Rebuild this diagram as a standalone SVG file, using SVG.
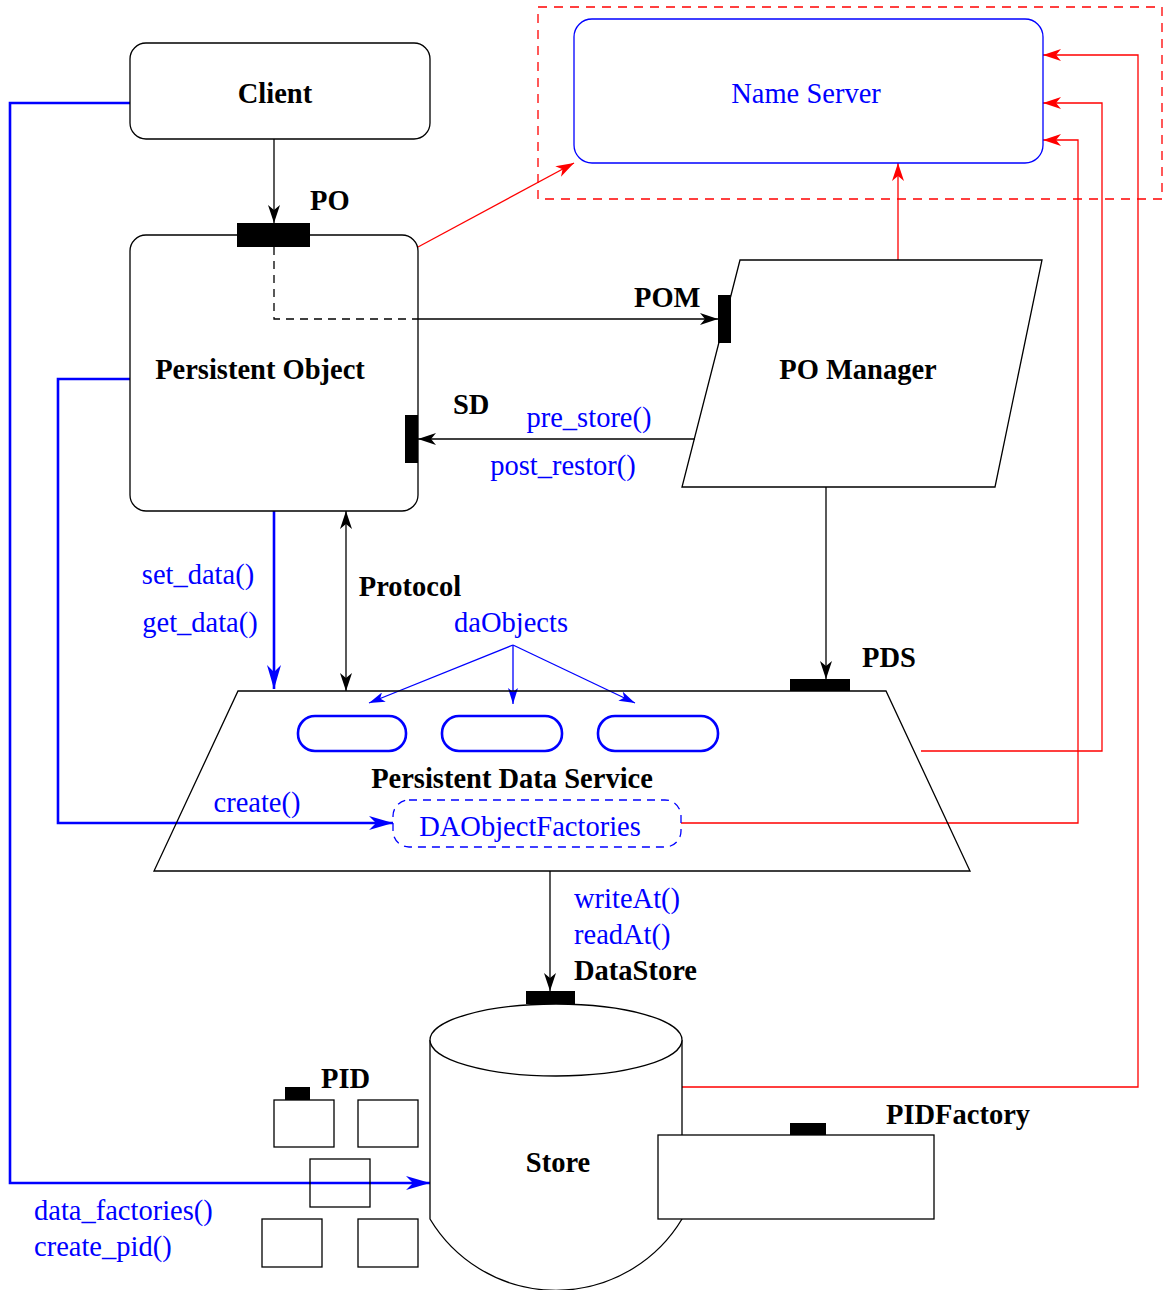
<svg xmlns="http://www.w3.org/2000/svg" width="1167" height="1290" viewBox="0 0 1167 1290">
<style>
text{font-family:"Liberation Serif","Times New Roman",serif;font-size:28.5px}
.b{font-weight:bold;fill:#000}
.bl{fill:#0000ff}
.k{fill:none;stroke:#000;stroke-width:1.3}
.w{fill:#fff;stroke:#000;stroke-width:1.3}
.port{fill:#000;stroke:none}
.r{fill:none;stroke:#ff0000;stroke-width:1.3}
.bt{fill:none;stroke:#0000ff;stroke-width:2.6}
.bn{fill:none;stroke:#0000ff;stroke-width:1.3}
</style>
<defs>
<marker id="ak" markerUnits="userSpaceOnUse" markerWidth="20" markerHeight="12" refX="18" refY="6" orient="auto-start-reverse"><path d="M0,0 L18,6 L0,12 L5,6 z" fill="#000"/></marker>
<marker id="ar" markerUnits="userSpaceOnUse" markerWidth="20" markerHeight="12" refX="18" refY="6" orient="auto"><path d="M0,0 L18,6 L0,12 L5,6 z" fill="#ff0000"/></marker>
<marker id="ab" markerUnits="userSpaceOnUse" markerWidth="18" markerHeight="10" refX="16" refY="5" orient="auto"><path d="M0,0 L16,5 L0,10 L4,5 z" fill="#0000ff"/></marker>
<marker id="abb" markerUnits="userSpaceOnUse" markerWidth="26" markerHeight="14" refX="24" refY="7" orient="auto"><path d="M0,0 L24,7 L0,14 L7,7 z" fill="#0000ff"/></marker>
</defs>

<rect x="538" y="7" width="624" height="192" fill="none" stroke="#ff0000" stroke-width="1.3" stroke-dasharray="9,7"/>

<g id="connectors">
<line class="k" x1="274" y1="139" x2="274" y2="223" marker-end="url(#ak)"/>
<polyline class="bt" points="130,103 10,103 10,1183 430,1183" marker-end="url(#abb)"/>
<polyline class="k" points="274,247 274,319 418,319" stroke-dasharray="8,6"/>
<line class="k" x1="418" y1="319" x2="718" y2="319" marker-end="url(#ak)"/>
<line class="r" x1="418" y1="247" x2="574" y2="163" marker-end="url(#ar)"/>
<line class="r" x1="898" y1="260" x2="898" y2="163" marker-end="url(#ar)"/>
<line class="k" x1="695" y1="439" x2="418" y2="439" marker-end="url(#ak)"/>
<line class="k" x1="826" y1="487" x2="826" y2="679" marker-end="url(#ak)"/>
<line class="bt" x1="274" y1="511" x2="274" y2="689" marker-end="url(#abb)"/>
<line class="k" x1="346" y1="511" x2="346" y2="691" marker-start="url(#ak)" marker-end="url(#ak)"/>
<line class="bn" x1="513" y1="645" x2="369" y2="703" marker-end="url(#ab)"/>
<line class="bn" x1="513" y1="645" x2="513" y2="704" marker-end="url(#ab)"/>
<line class="bn" x1="513" y1="645" x2="635" y2="703" marker-end="url(#ab)"/>
<polyline class="bt" points="130,379 58,379 58,823 393,823" marker-end="url(#abb)"/>
<polyline class="r" points="921,751 1102,751 1102,103 1043,103" marker-end="url(#ar)"/>
<polyline class="r" points="681,823 1078,823 1078,140 1043,140" marker-end="url(#ar)"/>
<polyline class="r" points="682,1087 1138,1087 1138,55 1043,55" marker-end="url(#ar)"/>
<line class="k" x1="550" y1="871" x2="550" y2="991" marker-end="url(#ak)"/>
</g>

<g id="client">
<rect class="k" x="130" y="43" width="300" height="96" rx="16"/>
<text class="b" x="275" y="103" text-anchor="middle">Client</text>
</g>

<g id="name-server">
<rect x="574" y="19" width="469" height="144" rx="18" fill="none" stroke="#0000ff" stroke-width="1.3"/>
<text class="bl" x="806" y="103" text-anchor="middle">Name Server</text>
</g>

<g id="persistent-object">
<rect class="k" x="130" y="235" width="288" height="276" rx="16"/>
<rect class="port" x="237" y="223" width="73" height="24"/>
<text class="b" x="310" y="210">PO</text>
<rect class="port" x="405" y="415" width="13" height="48"/>
<text class="b" x="453" y="414">SD</text>
<text class="b" x="260" y="379" text-anchor="middle">Persistent Object</text>
</g>

<g id="po-manager">
<polygon class="k" points="740,260 1042,260 995,487 682,487"/>
<rect class="port" x="718" y="295" width="13" height="48"/>
<text class="b" x="634" y="307">POM</text>
<text class="b" x="858" y="379" text-anchor="middle">PO Manager</text>
</g>

<g id="labels">
<text class="bl" x="589" y="427" text-anchor="middle">pre_store()</text>
<text class="bl" x="563" y="475" text-anchor="middle">post_restor()</text>
<text class="bl" x="198" y="584" text-anchor="middle">set_data()</text>
<text class="bl" x="200" y="632" text-anchor="middle">get_data()</text>
<text class="b" x="410" y="596" text-anchor="middle">Protocol</text>
<text class="bl" x="511" y="632" text-anchor="middle">daObjects</text>
<text class="bl" x="257" y="812" text-anchor="middle">create()</text>
<text class="bl" x="574" y="908">writeAt()</text>
<text class="bl" x="574" y="944">readAt()</text>
<text class="b" x="574" y="980">DataStore</text>
<text class="bl" x="34" y="1220">data_factories()</text>
<text class="bl" x="34" y="1256">create_pid()</text>
</g>

<g id="persistent-data-service">
<polygon class="k" points="238,691 886,691 970,871 154,871"/>
<rect class="port" x="790" y="679" width="60" height="12"/>
<text class="b" x="862" y="667">PDS</text>
<rect class="bt" x="298" y="716" width="108" height="35" rx="17"/>
<rect class="bt" x="442" y="716" width="120" height="35" rx="17"/>
<rect class="bt" x="598" y="716" width="120" height="35" rx="17"/>
<text class="b" x="512" y="788" text-anchor="middle">Persistent Data Service</text>
<rect x="393" y="800" width="288" height="47" rx="16" fill="none" stroke="#0000ff" stroke-width="1.3" stroke-dasharray="8,6"/>
<text class="bl" x="530" y="836" text-anchor="middle">DAObjectFactories</text>
</g>

<g id="store">
<path class="w" d="M430,1040 L430,1219 A147,147 0 0 0 682,1219 L682,1040"/>
<ellipse class="w" cx="556" cy="1040" rx="126" ry="36"/>
<rect class="port" x="526" y="991" width="49" height="13"/>
<text class="b" x="558" y="1172" text-anchor="middle">Store</text>
</g>

<g id="pid-factory">
<rect class="w" x="658" y="1135" width="276" height="84"/>
<rect class="port" x="790" y="1123" width="36" height="12"/>
<text class="b" x="886" y="1124">PIDFactory</text>
</g>

<g id="pids">
<rect class="k" x="274" y="1100" width="60" height="47"/>
<rect class="port" x="285" y="1087" width="25" height="13"/>
<text class="b" x="321" y="1088">PID</text>
<rect class="k" x="358" y="1100" width="60" height="47"/>
<rect class="k" x="310" y="1159" width="60" height="48"/>
<rect class="k" x="262" y="1219" width="60" height="48"/>
<rect class="k" x="358" y="1219" width="60" height="48"/>
</g>
</svg>
